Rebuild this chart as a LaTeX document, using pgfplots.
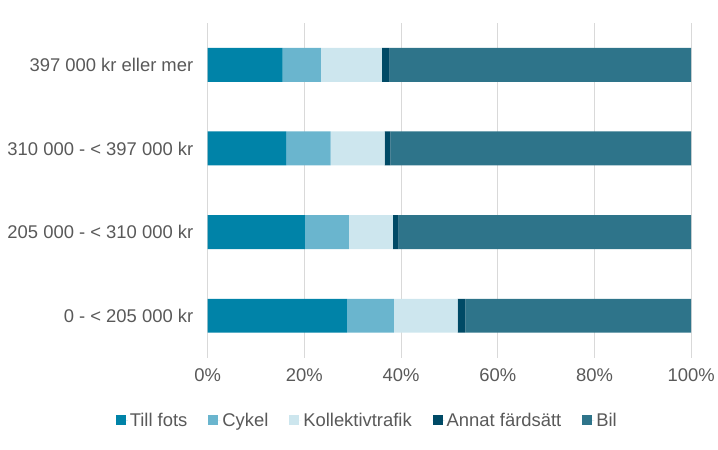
\documentclass[border=0pt]{standalone}
\usepackage{fontspec}
\setmainfont{Liberation Sans}
\usepackage{pgfplots}
\pgfplotsset{compat=1.18}
\usetikzlibrary{calc}
\definecolor{tillfots}{RGB}{0,131,168}
\definecolor{cykel}{RGB}{106,181,206}
\definecolor{kollektiv}{RGB}{205,230,238}
\definecolor{annat}{RGB}{0,74,102}
\definecolor{bil}{RGB}{46,116,138}
\definecolor{gridgrey}{RGB}{217,217,217}
\definecolor{txtgrey}{RGB}{89,89,89}
\begin{document}
\begin{tikzpicture}
\begin{axis}[
  xbar stacked,
  scale only axis, width=484bp, height=335bp,
  xmin=0, xmax=100, ymin=-0.5, ymax=3.5,
  ytick={0,1,2,3},
  yticklabels={0 - < 205 000 kr, 205 000 - < 310 000 kr, 310 000 - < 397 000 kr, 397 000 kr eller mer},
  xtick={0,20,...,100},
  xticklabel={\pgfmathprintnumber[assume math mode=true]{\tick}\%},
  xmajorgrids, grid style={draw=gridgrey, line width=1.2bp},
  axis line style={draw=none}, major tick length=0pt,
  bar width=34bp,
  tick label style={font=\fontsize{18.5}{21}\selectfont, color=txtgrey},
  xticklabel style={yshift=-8bp},
  yticklabel style={xshift=-11bp},
  legend style={draw=none, at={(rel axis cs:0.33,-0.188)}, anchor=center,
    legend columns=-1, font=\fontsize{18.5}{21}\selectfont, text=txtgrey,
    /tikz/every even column/.append style={column sep=19bp}},
  legend image code/.code={\fill[#1] (0bp,-5bp) rectangle (10bp,5bp);
    \path (0bp,0bp) -- (12bp,0bp);},
]
\addplot[fill=tillfots, draw=none] coordinates {(28.8,0) (20.1,1) (16.2,2) (15.5,3)};
\addplot[fill=cykel, draw=none] coordinates {(9.7,0) (9.1,1) (9.2,2) (7.9,3)};
\addplot[fill=kollektiv, draw=none] coordinates {(13.2,0) (9.1,1) (11.2,2) (12.6,3)};
\addplot[fill=annat, draw=none] coordinates {(1.6,0) (1.2,1) (1.2,2) (1.6,3)};
\addplot[fill=bil, draw=none] coordinates {(46.7,0) (60.5,1) (62.2,2) (62.4,3)};
\legend{Till fots, Cykel, Kollektivtrafik, Annat färdsätt, Bil}
\coordinate (sw) at (rel axis cs:0,0);
\coordinate (ne) at (rel axis cs:1,1);
\end{axis}
\path ($(sw)+(-208bp,-92bp)$) rectangle ($(ne)+(26bp,23bp)$);
\end{tikzpicture}
\end{document}
